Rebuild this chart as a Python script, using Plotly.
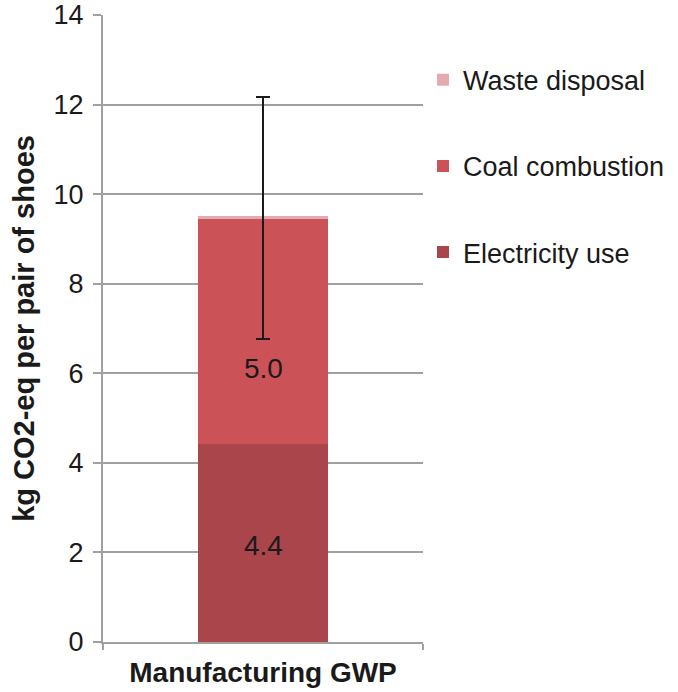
import plotly.graph_objects as go

categories = ["Manufacturing GWP"]
electricity_use = [4.43]
coal_combustion = [5.02]
waste_disposal = [0.07]
error_plus = [2.64]
error_minus = [2.75]
y_ticks = [0, 2, 4, 6, 8, 10, 12, 14]

FONT = "Liberation Sans, Arial, sans-serif"

fig = go.Figure()
fig.add_trace(go.Bar(
    x=categories, y=electricity_use, name="Electricity use",
    marker=dict(color="#A9454B", line=dict(width=0)),
    textposition="none",
    legendgroup="e", legendrank=3, width=0.405,
))
fig.add_trace(go.Bar(
    x=categories, y=coal_combustion, name="Coal combustion",
    marker=dict(color="#CB5257", line=dict(width=0)),
    textposition="none",
    legendgroup="c", legendrank=2, width=0.405,
))
fig.add_trace(go.Bar(
    x=categories, y=waste_disposal, name="Waste disposal",
    marker=dict(color="#E3ABB0", line=dict(width=0)),
    textposition="none",
    legendgroup="w", legendrank=1, width=0.405,
    error_y=dict(type="data", symmetric=False, array=error_plus, arrayminus=error_minus,
                 color="#1a1a1a", thickness=2, width=7),
))

# data labels (Excel moved the coal label below the error bar end)
label_font = dict(size=28, family=FONT, color="#1a1a1a")
for i, cat in enumerate(categories):
    e = electricity_use[i]
    c = coal_combustion[i]
    fig.add_annotation(x=cat, y=e / 2, text=f"{e:.1f}", showarrow=False,
                       font=label_font, yshift=-3)
    fig.add_annotation(x=cat, y=e + c / 2, text=f"{c:.1f}", showarrow=False,
                       font=label_font, yshift=-37)

fig.update_layout(
    barmode="stack",
    width=678, height=692,
    margin=dict(l=103, r=255, t=15, b=50, autoexpand=False),
    paper_bgcolor="white", plot_bgcolor="white",
    font=dict(family=FONT, color="#1a1a1a"),
    showlegend=True,
    legend=dict(
        x=1.0, xanchor="left", y=0.935, yanchor="top",
        traceorder="grouped", tracegroupgap=48,
        font=dict(size=27, family=FONT, color="#1a1a1a"),
        bgcolor="rgba(0,0,0,0)",
    ),
    xaxis=dict(
        automargin=False,
        showline=True, linecolor="#A0A0A0", linewidth=2,
        ticks="outside", tickson="boundaries", ticklen=6, tickcolor="#A0A0A0", tickwidth=2,
        tickfont=dict(size=28, family=FONT, color="#1a1a1a", weight="bold"),
        ticklabelstandoff=4,
        showgrid=False, zeroline=False,
    ),
    yaxis=dict(
        automargin=False,
        range=[0, 14], tickvals=y_ticks,
        showline=True, linecolor="#A0A0A0", linewidth=2,
        ticks="outside", ticklen=8, tickcolor="#A0A0A0", tickwidth=2,
        ticklabelstandoff=4,
        showgrid=True, gridcolor="#A0A0A0", gridwidth=2,
        zeroline=False,
        tickfont=dict(size=27, family=FONT, color="#1a1a1a"),
        title=dict(text="kg CO2-eq per pair of shoes",
                   font=dict(size=29, family=FONT, color="#1a1a1a", weight="bold"),
                   standoff=10),
    ),
)

fig.write_html("out.html", config={"displayModeBar": False},
               post_script="document.body.style.margin='0';")
